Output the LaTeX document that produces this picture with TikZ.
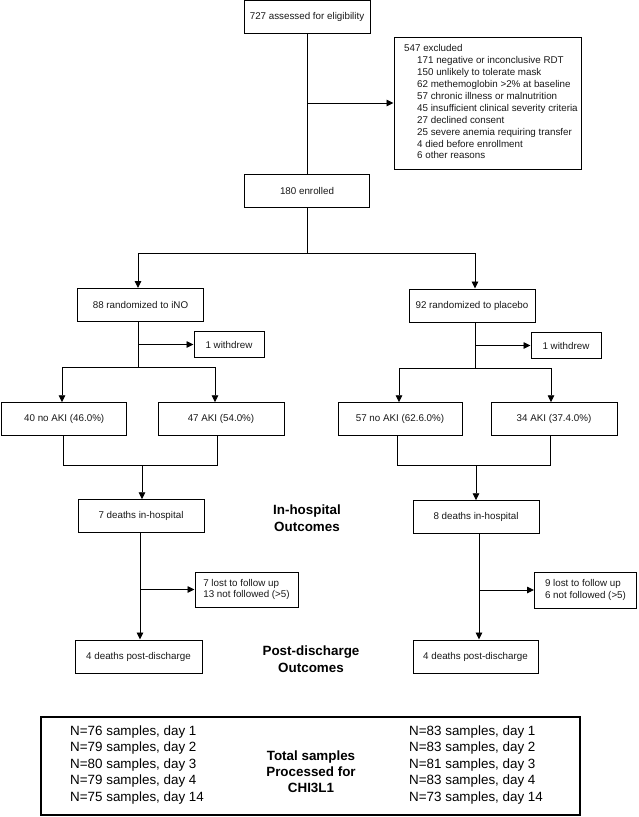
\documentclass[tikz,border=0pt]{standalone}
\usepackage{fontspec}
\setmainfont{Liberation Sans}
\usetikzlibrary{arrows.meta}
\tikzset{
  box/.style={draw=black, line width=1pt, fill=white, inner sep=2pt, align=center,
    font=\fontsize{9.8}{11.8}\selectfont, text=black!90},
  arr/.style={line width=0.9pt, -{Triangle[length=7pt,width=6.5pt]}},
  ln/.style={line width=0.9pt},
  lbl/.style={font=\fontsize{13.4}{16.8}\selectfont\bfseries, align=center, inner sep=0pt},
  big/.style={font=\fontsize{13.4}{16.6}\selectfont, align=left, inner sep=0pt}
}
\begin{document}
\begin{tikzpicture}[x=1pt,y=-1pt]
\useasboundingbox (0,0) rectangle (638,817);

% nodes
\node[box, minimum width=126pt, minimum height=33pt] (elig) at (307,17) {727 assessed for eligibility};
\node[box, minimum width=187pt, minimum height=132pt] (excl) at (487.5,103) {};
\node[anchor=north west, inner sep=0pt, align=left, font=\fontsize{9.8}{11.9}\selectfont, text=black!90]
  (excltxt) at (404,44.5) {547 excluded\\
  \hspace*{13pt}171 negative or inconclusive RDT\\
  \hspace*{13pt}150 unlikely to tolerate mask\\
  \hspace*{13pt}62 methemoglobin >2\% at baseline\\
  \hspace*{13pt}57 chronic illness or malnutrition\\
  \hspace*{13pt}45 insufficient clinical severity criteria\\
  \hspace*{13pt}27 declined consent\\
  \hspace*{13pt}25 severe anemia requiring transfer\\
  \hspace*{13pt}4 died before enrollment\\
  \hspace*{13pt}6 other reasons};
\node[box, minimum width=125pt, minimum height=33pt] (enrol) at (307,191) {180 enrolled};

\node[box, minimum width=126pt, minimum height=33pt] (rand1) at (140.5,305) {88 randomized to iNO};
\node[box, minimum width=126pt, minimum height=33pt] (rand2) at (472,305.5) {92 randomized to placebo};
\node[box, minimum width=70pt, minimum height=26pt] (withd1) at (229,344.5) {1 withdrew};
\node[box, minimum width=70pt, minimum height=26pt] (withd2) at (566,345.5) {1 withdrew};

\node[box, minimum width=125pt, minimum height=32.5pt] (noaki1) at (64.2,419) {40 no AKI (46.0\%)};
\node[box, minimum width=126pt, minimum height=32.5pt] (aki1) at (221,419) {47 AKI (54.0\%)};
\node[box, minimum width=124pt, minimum height=32.5pt] (noaki2) at (400,419) {57 no AKI (62.6.0\%)};
\node[box, minimum width=126pt, minimum height=32.5pt] (aki2) at (554,419) {34 AKI (37.4.0\%)};

\node[box, minimum width=126pt, minimum height=32.5pt] (deaths1) at (141,516) {7 deaths in-hospital};
\node[box, minimum width=126pt, minimum height=32.5pt] (deaths2) at (476,517) {8 deaths in-hospital};

\node[box, minimum width=103pt, minimum height=35pt, align=left] (lost1) at (246.5,589.5) {7 lost to follow up\\13 not followed (>5)};
\node[box, minimum width=102pt, minimum height=36pt, align=left] (lost2) at (585.5,590) {9 lost to follow up\\6 not followed (>5)};

\node[box, minimum width=127pt, minimum height=33pt] (post1) at (138.5,656.5) {4 deaths post-discharge};
\node[box, minimum width=125pt, minimum height=33pt] (post2) at (475.5,656.5) {4 deaths post-discharge};

\node[lbl] (inhosp) at (307,518.5) {In-hospital\\Outcomes};
\node[lbl] (postdis) at (311,659) {Post-discharge\\Outcomes};

\node[draw=black, line width=1.1pt, minimum width=539pt, minimum height=98pt] (samples) at (310.5,766) {};
\node[big, anchor=north west] (leftN) at (70,725.2) {N=76 samples, day 1\\N=79 samples, day 2\\N=80 samples, day 3\\N=79 samples, day 4\\N=75 samples, day 14};
\node[big, anchor=north west] (rightN) at (409,725.2) {N=83 samples, day 1\\N=83 samples, day 2\\N=81 samples, day 3\\N=83 samples, day 4\\N=73 samples, day 14};
\node[lbl, font=\fontsize{13.4}{16}\selectfont\bfseries] (total) at (311,772) {Total samples\\Processed for\\CHI3L1};

% connectors top
\draw[ln] (elig.south) -- (enrol.north);
\draw[arr] (elig.south |- excl.west) -- (excl.west);

\coordinate (L) at (138,253);
\coordinate (R) at (475,253);
\draw[ln] (enrol.south) -- (enrol.south |- L);
\draw[ln] (L) -- (R);
\draw[arr] (L) -- (L |- rand1.north);
\draw[arr] (R) -- (R |- rand2.north);

% left arm
\coordinate (spl1) at (138,367);
\draw[ln] (L |- rand1.south) -- (spl1);
\draw[arr] (L |- withd1.west) -- (withd1.west);
\coordinate (l1a) at (62,367);
\coordinate (l1b) at (215,367);
\draw[ln] (l1a) -- (l1b);
\draw[arr] (l1a) -- (l1a |- noaki1.north);
\draw[arr] (l1b) -- (l1b |- aki1.north);
\coordinate (m1a) at (63,465);
\coordinate (m1b) at (217,465);
\coordinate (m1c) at (142,465);
\draw[ln] (m1a |- noaki1.south) -- (m1a) -- (m1b) -- (m1b |- aki1.south);
\draw[arr] (m1c) -- (m1c |- deaths1.north);
\coordinate (v1) at (140,600);
\draw[arr] (v1 |- deaths1.south) -- (v1 |- post1.north);
\draw[arr] (v1 |- lost1.west) -- (lost1.west);

% right arm
\coordinate (spl2) at (475,368);
\draw[ln] (R |- rand2.south) -- (spl2);
\draw[arr] (R |- withd2.west) -- (withd2.west);
\coordinate (l2a) at (399,368);
\coordinate (l2b) at (551,368);
\draw[ln] (l2a) -- (l2b);
\draw[arr] (l2a) -- (l2a |- noaki2.north);
\draw[arr] (l2b) -- (l2b |- aki2.north);
\coordinate (m2a) at (397,465);
\coordinate (m2b) at (550,465);
\coordinate (m2c) at (476,465);
\draw[ln] (m2a |- noaki2.south) -- (m2a) -- (m2b) -- (m2b |- aki2.south);
\draw[arr] (m2c) -- (m2c |- deaths2.north);
\coordinate (v2) at (479,600);
\draw[arr] (v2 |- deaths2.south) -- (v2 |- post2.north);
\draw[arr] (v2 |- lost2.west) -- (lost2.west);
\end{tikzpicture}
\end{document}
